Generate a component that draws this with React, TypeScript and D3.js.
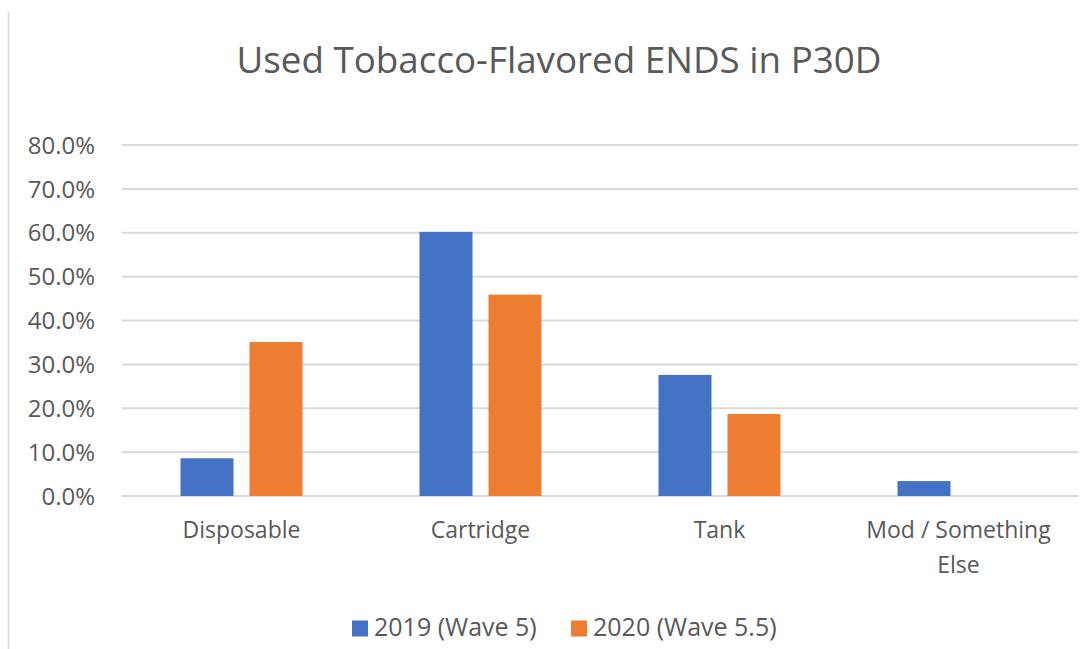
import React from "react";
import * as d3 from "d3";

const W = 1088;
const H = 649;

const title = "Used Tobacco-Flavored ENDS in P30D";
const categories = ["Disposable", "Cartridge", "Tank", "Mod / Something Else"];
const categoryLines = [["Disposable"], ["Cartridge"], ["Tank"], ["Mod / Something", "Else"]];
const seriesNames = ["2019 (Wave 5)", "2020 (Wave 5.5)"];
const values2019 = [8.6, 60.2, 27.6, 3.4];
const values2020 = [35.1, 45.9, 18.7, 0];
const yTicks = [0, 10, 20, 30, 40, 50, 60, 70, 80];
const colors = ["#4472C4", "#ED7D31"];

const FONT = "'Open Sans', 'Noto Sans', sans-serif";
const TEXT = "#595959";

export default function App() {
  const left = 122;
  const right = 1078;
  const top = 145;
  const bottom = 496;

  const x0 = d3.scaleBand<string>().domain(categories).range([left, right]).paddingInner(0).paddingOuter(0);
  const x1 = d3
    .scaleBand<string>()
    .domain(seriesNames)
    .range([0, x0.bandwidth()])
    .paddingInner(0.232)
    .paddingOuter(0.848);
  const y = d3.scaleLinear().domain([0, 80]).range([bottom, top]);
  const fmt = (v: number) => d3.format(".1f")(v) + "%";
  const series = [values2019, values2020];

  return (
    <svg
      width={W}
      height={H}
      style={{ position: "absolute", left: 0, top: 0, background: "#fff" }}
      fontFamily={FONT}
    >
      <rect x={0} y={0} width={W} height={H} fill="#fff" />
      <line x1={8.5} x2={8.5} y1={12} y2={H} stroke="#d9d9d9" strokeWidth={1.5} />
      <text
        x={559}
        y={73}
        textAnchor="middle"
        fontSize={36}
        fill={TEXT}
        textLength={645}
        lengthAdjust="spacingAndGlyphs"
      >
        {title}
      </text>
      {yTicks.map((t) => (
        <g key={t}>
          <line x1={left} x2={right} y1={y(t)} y2={y(t)} stroke="#d9d9d9" strokeWidth={2} />
          <text x={95} y={y(t)} dy="0.36em" textAnchor="end" fontSize={24} fill={TEXT}>
            {fmt(t)}
          </text>
        </g>
      ))}
      {categories.map((c, i) => (
        <g key={c} transform={`translate(${x0(c)},0)`}>
          {series.map((s, j) =>
            s[i] > 0 ? (
              <rect
                key={j}
                x={x1(seriesNames[j])}
                y={y(s[i])}
                width={x1.bandwidth()}
                height={y(0) - y(s[i])}
                fill={colors[j]}
              />
            ) : null
          )}
          {categoryLines[i].map((ln, k) => (
            <text
              key={k}
              x={x0.bandwidth() / 2}
              y={538 + k * 35}
              textAnchor="middle"
              fontSize={23}
              fill={TEXT}
            >
              {ln}
            </text>
          ))}
        </g>
      ))}
      {seriesNames.map((s, j) => {
        const lx = j === 0 ? 352 : 571;
        return (
          <g key={s}>
            <rect x={lx} y={620.5} width={16} height={16} fill={colors[j]} />
            <text x={lx + 22} y={636} fontSize={25} fill={TEXT}>
              {s}
            </text>
          </g>
        );
      })}
    </svg>
  );
}
